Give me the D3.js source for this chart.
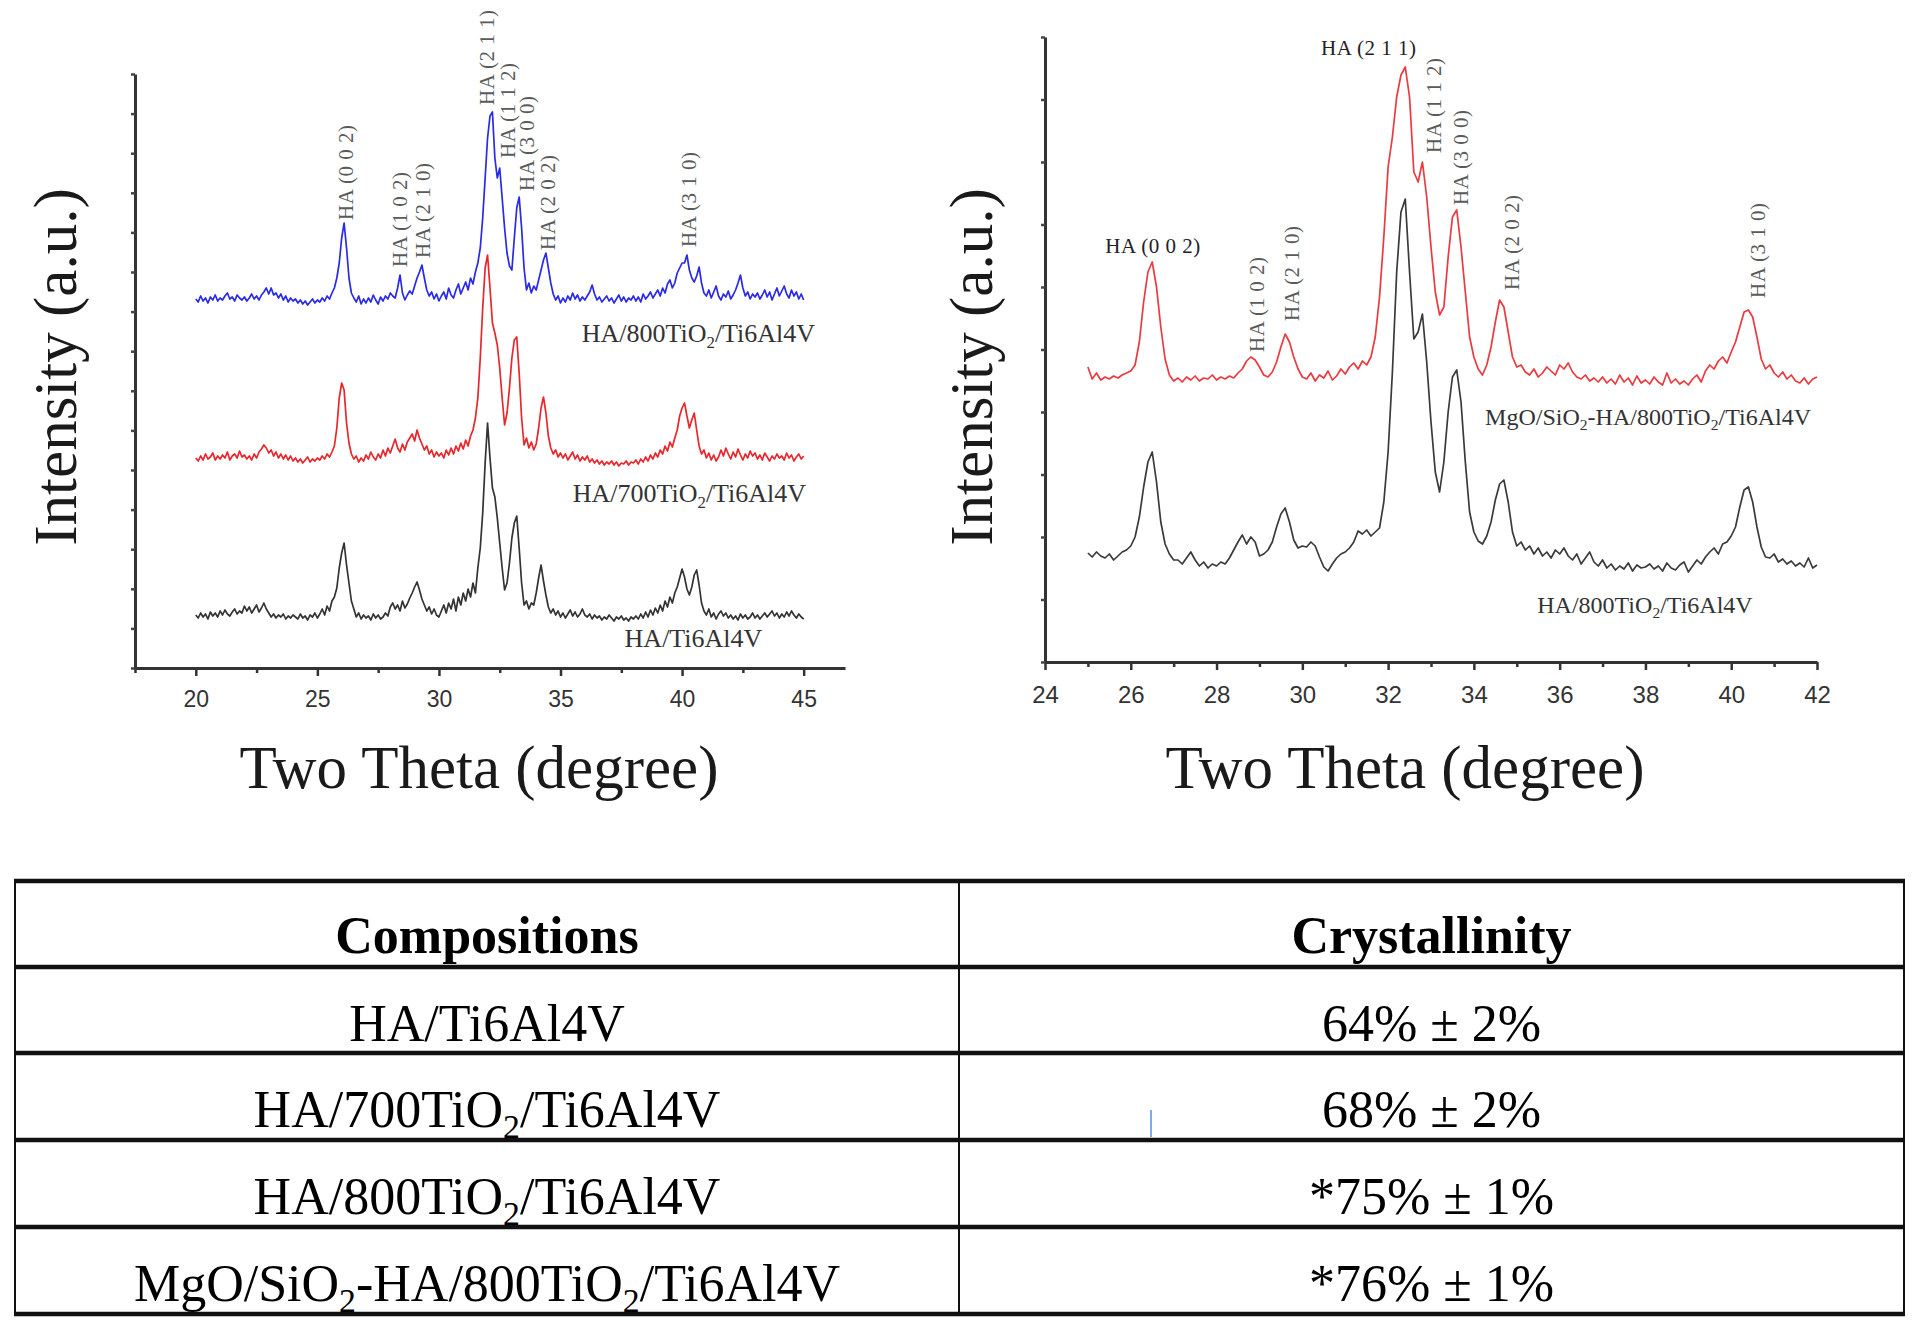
<!DOCTYPE html>
<html>
<head>
<meta charset="utf-8">
<script src="https://cdn.jsdelivr.net/npm/d3@7"></script>
<style>
  body { margin: 0; background: #fff; }
</style>
</head>
<body>
<div id="chart"></div>
<script>
// ---------- DATA ----------
// left panel: scans from 20 to 45 deg, 0.1 deg step
const leftStart = 20, leftStep = 0.1;
const leftNames = ["HA/Ti6Al4V", "HA/700TiO_2/Ti6Al4V", "HA/800TiO_2/Ti6Al4V"];
const leftColors = ["#333333", "#e8262c", "#2a2ae6"];
const leftOffsets = [45, 200, 360];
const leftBlack = [
  8,5,10,6,9,4,11,7,10,6,12,
  8,13,9,7,11,14,9,12,10,17,
  12,16,10,14,18,11,15,20,14,10,
  6,9,5,8,6,9,4,7,5,8,
  6,4,9,5,7,3,8,6,10,5,
  9,14,8,17,12,22,26,35,55,70,
  80,58,40,22,14,6,10,4,8,5,
  7,3,9,5,8,4,6,10,7,16,
  20,14,18,12,22,15,19,25,30,36,
  41,33,24,18,12,16,9,14,8,6,
  12,18,10,20,14,24,12,26,18,30,
  22,34,26,40,30,55,75,110,160,200,
  165,135,126,105,80,55,33,40,60,85,
  100,107,75,40,18,22,14,20,18,30,
  45,58,42,28,16,10,14,8,12,6,
  10,5,9,13,7,11,6,9,14,8,
  6,9,4,8,5,7,3,6,4,8,
  5,2,6,4,7,3,5,2,6,4,
  7,4,9,5,11,6,13,8,15,10,
  18,12,22,16,26,20,30,36,45,54,
  46,34,28,36,48,53,38,20,12,8,
  14,6,10,4,9,12,7,10,5,8,
  4,7,3,9,5,8,4,6,10,5,
  8,4,7,10,6,9,12,7,10,5,
  9,6,11,7,12,8,5,9,6,4
];
const leftRed = [
  10,7,12,8,14,9,11,15,8,12,9,
  13,10,16,8,12,14,10,17,11,13,
  9,12,8,14,10,16,19,23,20,15,
  18,12,16,10,14,9,13,8,12,7,
  10,6,9,5,8,11,6,9,7,10,
  8,12,9,14,11,16,22,40,70,85,
  78,45,25,14,9,12,6,10,7,13,
  9,16,11,8,14,10,18,12,20,15,
  22,29,20,16,24,18,26,30,34,27,
  38,30,24,18,22,14,18,11,16,12,
  15,10,18,13,20,14,22,17,25,19,
  28,22,32,38,50,70,110,160,200,213,
  180,145,135,123,100,70,43,55,80,110,
  128,131,95,50,23,30,20,26,18,24,
  40,60,71,55,32,20,14,18,11,15,
  10,14,8,12,16,9,13,7,11,8,
  12,6,9,5,8,4,7,3,6,4,
  7,3,6,2,5,4,7,3,6,5,
  8,4,9,6,11,7,13,9,15,11,
  18,14,22,17,26,21,30,38,52,60,
  65,52,40,48,55,38,22,14,18,10,
  15,8,13,7,11,18,12,20,14,9,
  16,11,19,13,8,14,10,17,12,15,
  9,13,8,15,11,7,12,9,14,10,
  12,8,15,10,13,7,11,14,9,12
];
const leftBlue = [
  9,6,12,7,10,5,11,8,13,7,10,
  8,12,15,9,11,7,13,10,8,11,
  7,10,14,9,12,8,13,16,20,14,
  20,13,15,10,14,8,12,6,10,7,
  9,5,8,4,7,3,6,9,5,8,
  6,10,7,12,9,15,20,30,45,70,
  85,60,30,15,10,6,12,4,9,5,
  10,6,13,8,4,11,7,12,9,15,
  12,10,20,33,15,8,13,17,14,22,
  30,36,43,30,18,12,16,9,14,7,
  12,16,9,20,13,10,18,24,14,20,
  26,18,30,24,36,45,60,90,130,170,
  192,196,150,130,140,110,80,55,42,38,
  70,100,111,80,40,18,25,15,22,18,
  28,38,48,55,40,25,14,8,12,5,
  10,6,12,8,15,9,13,7,11,8,
  12,16,23,14,8,11,6,9,12,7,
  10,5,9,13,7,11,6,10,8,12,
  7,11,6,14,9,12,16,10,14,18,
  12,20,15,24,28,20,25,35,40,45,
  45,53,38,30,26,32,41,25,15,12,
  18,10,16,22,12,8,14,11,17,9,
  13,18,25,33,20,12,16,9,14,11,
  15,9,13,18,11,16,8,14,20,12,
  17,22,14,10,18,12,16,9,14,8
];
const leftNameX = [43.3, 45.1, 45.47];
const leftNameY = [21, 166, 326];
const leftXTicks = [20, 25, 30, 35, 40, 45];
const leftXMinor = [17.5, 22.5, 27.5, 32.5, 37.5, 42.5];
const leftPeakText = ["HA (0 0 2)", "HA (1 0 2)", "HA (2 1 0)", "HA (2 1 1)", "HA (1 1 2)", "HA (3 0 0)", "HA (2 0 2)", "HA (3 1 0)"];
const leftPeakX = [26.17, 28.4, 29.34, 31.97, 32.83, 33.61, 34.47, 40.27];
const leftPeakY = [448, 401, 410, 563, 510, 477, 418, 421];

// right panel: scans from 25 to 42 deg, 0.1 deg step
const rightStart = 25, rightStep = 0.1;
const rightNames = ["HA/800TiO_2/Ti6Al4V", "MgO/SiO_2-HA/800TiO_2/Ti6Al4V"];
const rightColors = ["#3a3a3a", "#ea3a40"];
const rightOffsets = [90, 275];
const rightBlack = [
  19,15,20,16,14,18,12,16,20,22,26,
  35,55,85,110,120,90,50,28,18,12,
  12,8,14,20,12,6,10,4,8,6,
  10,8,14,22,30,37,28,35,30,16,
  18,22,30,45,58,64,50,32,24,26,
  25,30,26,15,5,1,8,14,18,20,
  24,30,41,38,42,36,40,44,70,120,
  200,300,360,373,300,233,240,258,210,150,
  100,80,110,160,195,202,170,110,60,40,
  31,28,36,50,72,88,92,70,40,26,
  30,22,26,18,24,16,20,14,22,18,
  24,16,12,18,8,14,20,10,6,12,
  4,8,2,6,3,9,1,7,4,5,
  8,3,6,1,9,4,2,7,10,0,
  6,12,8,15,20,24,18,28,30,36,
  45,65,82,85,70,45,25,15,14,18,
  10,13,8,11,6,9,5,14,4,7
];
const rightRed = [
  20,8,14,7,10,8,11,9,12,14,16,
  22,45,85,115,125,100,60,28,12,6,
  9,5,10,7,11,6,9,8,12,7,
  10,8,11,9,14,18,26,30,27,20,
  12,10,15,25,40,53,45,30,18,10,
  8,14,6,12,9,16,7,11,18,13,
  20,24,18,26,22,30,50,90,150,220,
  250,290,312,320,290,215,205,225,190,140,
  95,72,80,130,170,177,140,95,50,30,
  18,12,22,40,65,87,80,55,30,20,
  22,15,12,18,10,14,20,16,12,22,
  18,24,15,10,8,12,6,9,5,10,
  4,8,3,12,5,9,2,11,4,7,
  3,10,5,2,14,4,8,3,6,2,
  8,12,5,16,22,18,26,30,24,35,
  45,60,75,77,70,50,28,18,22,14,
  10,15,8,12,6,4,9,3,8,10
];
const rightNameX = [40.5, 41.86];
const rightNameY = [49, 237];
const rightXTicks = [24, 26, 28, 30, 32, 34, 36, 38, 40, 42];
const rightXMinor = [25, 27, 29, 31, 33, 35, 37, 39, 41];
const rightPeakText = ["HA (0 0 2)", "HA (1 0 2)", "HA (2 1 0)", "HA (2 1 1)", "HA (1 1 2)", "HA (3 0 0)", "HA (2 0 2)", "HA (3 1 0)"];
const rightPeakX = [26.52, 28.94, 29.76, 31.55, 33.07, 33.68, 34.87, 40.62];
const rightPeakY = [409, 310, 341, 607, 509, 457, 372, 364];
const rightPeakFlat = [true, false, false, true, false, false, false, false];

// table
const tableHeader = ["Compositions", "Crystallinity"];
const compositions = ["HA/Ti6Al4V", "HA/700TiO_2/Ti6Al4V", "HA/800TiO_2/Ti6Al4V", "MgO/SiO_2-HA/800TiO_2/Ti6Al4V"];
const crystallinity = ["64% \u00b1 2%", "68% \u00b1 2%", "*75% \u00b1 1%", "*76% \u00b1 1%"];

// ---------- DRAW ----------
const SERIF = "'Liberation Serif', 'Times New Roman', serif";
const SANS = "'Liberation Sans', Arial, sans-serif";

const svg = d3.select("#chart").append("svg")
  .attr("width", 1920)
  .attr("height", 1324)
  .style("background", "#fff");

// writes "TiO_2" style strings with subscripts
function richText(sel, str, fs) {
  const parts = str.split(/_(\d)/);
  parts.forEach((p, i) => {
    if (i % 2 === 1) {
      sel.append("tspan").attr("font-size", fs * 0.65).attr("dy", fs * 0.22).text(p);
    } else if (p.length) {
      sel.append("tspan").attr("dy", i > 0 ? -fs * 0.22 : 0).text(p);
    }
  });
}

function drawPanel(cfg) {
  const g = svg.append("g");
  const x = d3.scaleLinear().domain(cfg.xDomain).range(cfg.xRange);
  const y = d3.scaleLinear().domain(cfg.yDomain).range(cfg.yRange);

  // traces
  const line = d3.line().x(d => x(d[0])).y(d => y(d[1]));
  cfg.series.forEach((vals, k) => {
    const pts = vals.map((v, i) => [cfg.start + i * cfg.step, v + cfg.offsets[k]]);
    g.append("path")
      .datum(pts)
      .attr("d", line)
      .attr("fill", "none")
      .attr("stroke", cfg.colors[k])
      .attr("stroke-width", 1.7)
      .attr("stroke-linejoin", "round");
  });

  // series names
  cfg.names.forEach((n, k) => {
    const t = g.append("text")
      .attr("x", x(cfg.nameX[k]))
      .attr("y", y(cfg.nameY[k]))
      .attr("text-anchor", "end")
      .style("font-family", SERIF)
      .style("font-size", cfg.nameFont + "px")
      .style("fill", "#333");
    richText(t, n, cfg.nameFont);
  });

  // peak labels
  cfg.peakText.forEach((txt, k) => {
    const px = x(cfg.peakX[k]), py = y(cfg.peakY[k]);
    const flat = cfg.peakFlat ? cfg.peakFlat[k] : false;
    const t = g.append("text")
      .style("font-family", SERIF)
      .style("font-size", "21px")
      .style("letter-spacing", "0.5px")
      .text(txt);
    if (flat) {
      t.attr("x", px).attr("y", py).attr("text-anchor", "middle").style("fill", "#222");
    } else {
      t.attr("transform", `translate(${px},${py}) rotate(-90)`)
        .attr("dy", "0.35em")
        .attr("text-anchor", "start")
        .style("fill", "#5a5a5a");
    }
  });

  // x axis
  const xAxis = g.append("g")
    .attr("transform", `translate(0,${cfg.yRange[0]})`)
    .call(d3.axisBottom(x).tickValues(cfg.xTicks).tickSize(8).tickSizeOuter(0)
      .tickPadding(cfg.tickPad).tickFormat(d3.format("d")));
  xAxis.select(".domain").attr("stroke", "#333").attr("stroke-width", 3);
  xAxis.selectAll(".tick line").attr("stroke", "#333").attr("stroke-width", 2.5);
  xAxis.selectAll("text").style("font-family", SANS).style("font-size", cfg.tickFont + "px").style("fill", "#333");

  const xMinor = g.append("g")
    .attr("transform", `translate(0,${cfg.yRange[0]})`)
    .call(d3.axisBottom(x).tickValues(cfg.xMinor).tickSize(5).tickSizeOuter(0).tickFormat(""));
  xMinor.select(".domain").remove();
  xMinor.selectAll(".tick line").attr("stroke", "#333").attr("stroke-width", 2.5);

  // y axis, no labels
  const yt = d3.range(cfg.yTickCount + 1).map(i => cfg.yDomain[0] + i * (cfg.yDomain[1] - cfg.yDomain[0]) / cfg.yTickCount);
  const yAxis = g.append("g")
    .attr("transform", `translate(${cfg.xRange[0]},0)`)
    .call(d3.axisLeft(y).tickValues(yt).tickSize(4).tickSizeOuter(0).tickFormat(""));
  yAxis.select(".domain").attr("stroke", "#333").attr("stroke-width", 3);
  yAxis.selectAll(".tick line").attr("stroke", "#444").attr("stroke-width", 2.5);

  // axis titles
  g.append("text")
    .attr("x", cfg.xTitle[0]).attr("y", cfg.xTitle[1])
    .attr("text-anchor", "middle")
    .style("font-family", SERIF).style("font-size", "61px").style("fill", "#1a1a1a")
    .text("Two Theta (degree)");
  g.append("text")
    .attr("transform", `translate(${cfg.yTitle[0]},${cfg.yTitle[1]}) rotate(-90)`)
    .attr("text-anchor", "middle")
    .style("font-family", SERIF).style("font-size", "61px").style("fill", "#1a1a1a")
    .text("Intensity (a.u.)");
}

drawPanel({
  xDomain: [17.5, 46.7], xRange: [135, 845],
  yDomain: [0, 594], yRange: [668, 74], yTickCount: 15,
  start: leftStart, step: leftStep,
  series: [leftBlack, leftRed, leftBlue], colors: leftColors, offsets: leftOffsets,
  names: leftNames, nameX: leftNameX, nameY: leftNameY, nameFont: 26,
  peakText: leftPeakText, peakX: leftPeakX, peakY: leftPeakY,
  xTicks: leftXTicks, xMinor: leftXMinor, tickPad: 15, tickFont: 23,
  xTitle: [479, 788], yTitle: [76, 367]
});

drawPanel({
  xDomain: [24, 42], xRange: [1045, 1817],
  yDomain: [0, 625], yRange: [662, 37], yTickCount: 10,
  start: rightStart, step: rightStep,
  series: [rightBlack, rightRed], colors: rightColors, offsets: rightOffsets,
  names: rightNames, nameX: rightNameX, nameY: rightNameY, nameFont: 24,
  peakText: rightPeakText, peakX: rightPeakX, peakY: rightPeakY, peakFlat: rightPeakFlat,
  xTicks: rightXTicks, xMinor: rightXMinor, tickPad: 16, tickFont: 24,
  xTitle: [1405, 788], yTitle: [992, 367]
});

// ---------- TABLE ----------
const tbl = svg.append("g");
const colX = [15, 959, 1904];
const rowY = [881, 967, 1053, 1140, 1227, 1314];

rowY.forEach(yy => {
  tbl.append("line").attr("x1", colX[0] - 1).attr("x2", colX[2] + 1).attr("y1", yy).attr("y2", yy)
    .attr("stroke", "#111").attr("stroke-width", 4.5);
});
colX.forEach(xx => {
  tbl.append("line").attr("x1", xx).attr("x2", xx).attr("y1", rowY[0]).attr("y2", rowY[rowY.length - 1])
    .attr("stroke", "#111").attr("stroke-width", 2);
});

const colC = [(colX[0] + colX[1]) / 2, (colX[1] + colX[2]) / 2];
tableHeader.forEach((h, c) => {
  tbl.append("text")
    .attr("x", colC[c]).attr("y", rowY[0] + 72)
    .attr("text-anchor", "middle")
    .style("font-family", SERIF).style("font-size", "52px").style("font-weight", "bold").style("fill", "#000")
    .text(h);
});
compositions.forEach((comp, r) => {
  const base = rowY[r + 1] + 74;
  const t = tbl.append("text")
    .attr("x", colC[0]).attr("y", base)
    .attr("text-anchor", "middle")
    .style("font-family", SERIF).style("font-size", "52px").style("fill", "#000");
  richText(t, comp, 52);
  tbl.append("text")
    .attr("x", colC[1]).attr("y", base)
    .attr("text-anchor", "middle")
    .style("font-family", SERIF).style("font-size", "52px").style("fill", "#000")
    .text(crystallinity[r]);
});

// stray cursor mark in the original figure
tbl.append("line").attr("x1", 1151).attr("x2", 1151).attr("y1", 1110).attr("y2", 1137)
  .attr("stroke", "#5b8de0").attr("stroke-width", 1.5);
</script>
</body>
</html>
